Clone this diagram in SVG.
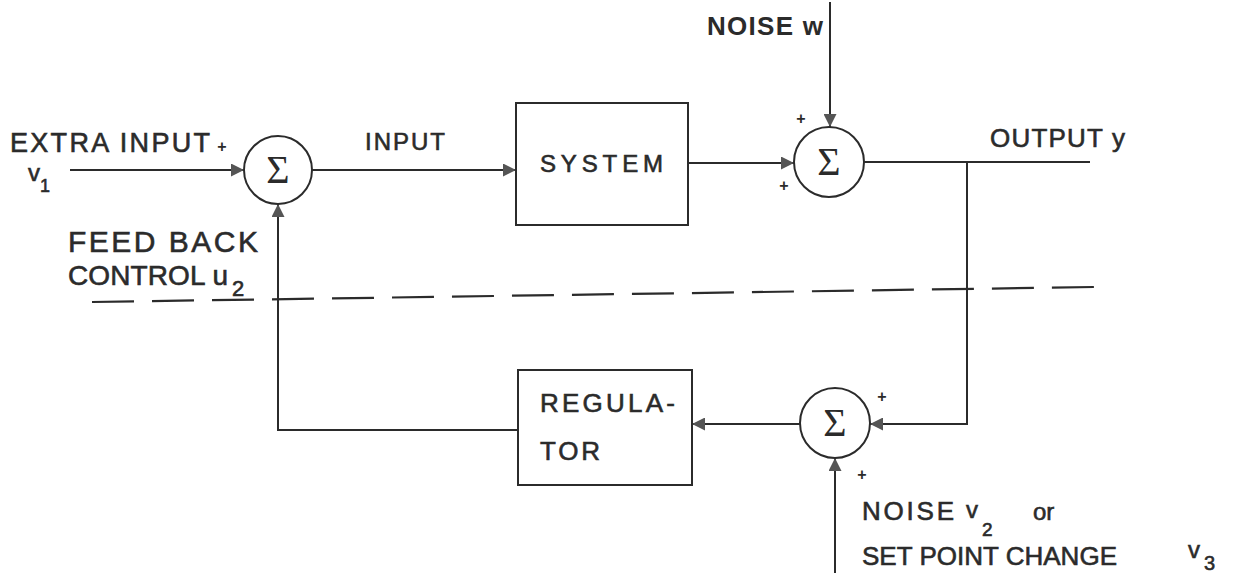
<svg xmlns="http://www.w3.org/2000/svg" width="1243" height="573" viewBox="0 0 1243 573">
<style>
.ln{stroke:#2b2b2b;stroke-width:2;fill:none}
.dash{stroke:#2b2b2b;stroke-width:2.2;fill:none;stroke-dasharray:42 18}
.blk{fill:#fff;stroke:#2b2b2b;stroke-width:2}
.t{font-family:"Liberation Sans",Arial,sans-serif;fill:#2b2b2b;stroke:#2b2b2b;stroke-width:0.6}
.b{font-weight:bold;stroke-width:0}
.sig{font-family:"Liberation Serif","Times New Roman",serif;font-size:40px;fill:#2b2b2b;text-anchor:middle}
.pl{font-family:"Liberation Sans",Arial,sans-serif;font-size:16px;font-weight:bold;fill:#2b2b2b;text-anchor:middle}
</style>
<defs>
<marker id="ah" viewBox="0 0 10 10" refX="10" refY="5" markerWidth="15" markerHeight="13" markerUnits="userSpaceOnUse" orient="auto">
<path d="M0,0 L10,5 L0,10 Z" fill="#555"/>
</marker>
</defs>
<rect width="1243" height="573" fill="#fff"/>
<g id="connectors">
<path class="ln" d="M70,170 H244" marker-end="url(#ah)"/>
<path class="ln" d="M312,170 H516" marker-end="url(#ah)"/>
<path class="ln" d="M688,163 H794" marker-end="url(#ah)"/>
<path class="ln" d="M830,2 V127" marker-end="url(#ah)"/>
<path class="ln" d="M864,162 H1090"/>
<path class="ln" d="M967,162 V424 H870" marker-end="url(#ah)"/>
<path class="ln" d="M835,573 V458" marker-end="url(#ah)"/>
<path class="ln" d="M800,424 H692" marker-end="url(#ah)"/>
<path class="ln" d="M518,430 H278 V204" marker-end="url(#ah)"/>
<path class="dash" d="M92,302 L1095,287"/>
</g>
<g id="sum1">
<circle class="blk" cx="278" cy="170" r="34"/>
<text class="sig" x="278" y="183">Σ</text>
</g>
<g id="system">
<rect class="blk" x="516" y="103" width="172" height="122"/>
<text class="t" x="540" y="172" font-size="24" textLength="123">SYSTEM</text>
</g>
<g id="sum2">
<circle class="blk" cx="829" cy="162" r="35"/>
<text class="sig" x="829" y="175">Σ</text>
</g>
<g id="sum3">
<circle class="blk" cx="835" cy="423" r="35"/>
<text class="sig" x="835" y="436">Σ</text>
</g>
<g id="regulator">
<rect class="blk" x="518" y="370" width="174" height="115"/>
<text class="t" x="540" y="412" font-size="26" textLength="135">REGULA-</text>
<text class="t" x="540" y="460" font-size="26" textLength="60">TOR</text>
</g>
<g id="labels">
<text class="t" x="10" y="152" font-size="27" textLength="200">EXTRA INPUT</text>
<text class="pl" x="222" y="152">+</text>
<text class="t" x="28" y="181" font-size="24">v</text>
<text class="t" x="40" y="192" font-size="18">1</text>
<text class="t" x="365" y="150" font-size="24" textLength="80">INPUT</text>
<text class="t b" x="707" y="35" font-size="26" textLength="116">NOISE w</text>
<text class="pl" x="801" y="124">+</text>
<text class="pl" x="784" y="191">+</text>
<text class="t" x="990" y="147" font-size="26" textLength="135">OUTPUT y</text>
<text class="t" x="68" y="252" font-size="30" textLength="190">FEED BACK</text>
<text class="t" x="68" y="285" font-size="28" textLength="160">CONTROL u</text>
<text class="t" x="232" y="296" font-size="22">2</text>
<text class="pl" x="882" y="402">+</text>
<text class="pl" x="862" y="480">+</text>
<text class="t" x="862" y="520" font-size="26" textLength="92">NOISE</text>
<text class="t" x="966" y="518" font-size="24">v</text>
<text class="t" x="982" y="536" font-size="19">2</text>
<text class="t" x="1033" y="520" font-size="24">or</text>
<text class="t" x="862" y="565" font-size="26" textLength="255">SET POINT CHANGE</text>
<text class="t" x="1188" y="558" font-size="24">v</text>
<text class="t" x="1204" y="570" font-size="20">3</text>
</g>
</svg>
